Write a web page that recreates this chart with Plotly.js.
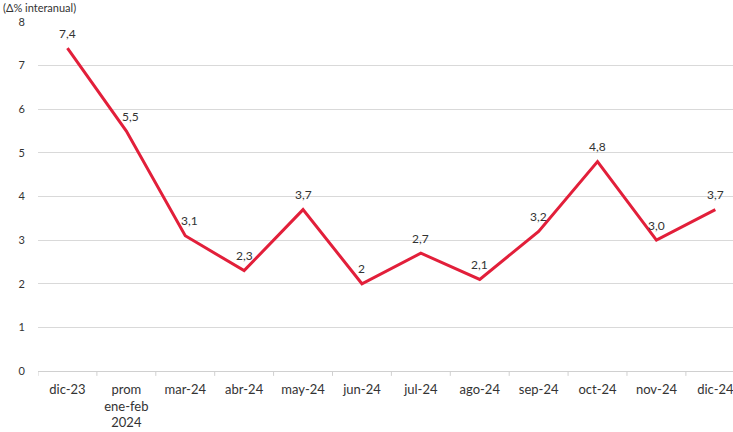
<!DOCTYPE html>
<html><head><meta charset="utf-8">
<script src="https://cdn.plot.ly/plotly-3.0.1.min.js"></script>
<style>body{margin:0;background:#fff}#c{width:733px;height:432px}</style>
</head><body><div id="c"></div>
<script>
const categories = ["dic-23","prom<br>ene-feb<br>2024","mar-24","abr-24","may-24","jun-24","jul-24","ago-24","sep-24","oct-24","nov-24","dic-24"];
const values = [7.4, 5.5, 3.1, 2.3, 3.7, 2.0, 2.7, 2.1, 3.2, 4.8, 3.0, 3.7];
const labels = ["7,4","5,5","3,1","2,3","3,7","2","2,7","2,1","3,2","4,8","3,0","3,7"];
const yTitle = "(Δ% interanual)";

const font = "Lato, 'Open Sans', sans-serif";
const idx = categories.map((c,i)=>i);
const trace = {
  x: idx, y: values, type: "scatter", mode: "lines",
  line: {color: "#E21F3A", width: 3}, hoverinfo: "skip"
};
const anns = values.map((v,i)=>({
  x: i, y: v, xref: "x", yref: "y", text: labels[i], showarrow: false,
  yshift: 15, xshift: (i===1?4:(i===2?4:0)), font: {family: font, size: 12, color: "#333"}
}));
anns.push({xref:"paper", yref:"paper", x:-0.052, y:1.0, yshift: 22, xanchor:"left", yanchor:"top",
  borderpad: 0, text: yTitle, showarrow:false, font:{family:font, size:11, color:"#333"}});
const layout = {
  width: 733, height: 432,
  margin: {l: 38, r: 0, t: 22, b: 61},
  paper_bgcolor: "#fff", plot_bgcolor: "#fff",
  showlegend: false,
  xaxis: {
    range: [-0.5, 11.3], tickmode: "array", tickvals: idx, ticktext: categories,
    showgrid: false, zeroline: false, showline: true, linecolor: "#d0d0d0", linewidth: 1,
    ticks: "", ticklabelstandoff: 6, ticklabeloverflow: "allow",
    tickfont: {family: font, size: 13, color: "#333"}, fixedrange: true
  },
  yaxis: {
    range: [0, 8], dtick: 1, showgrid: true, gridcolor: "#d9d9d9", gridwidth: 1,
    zeroline: false, showline: false, ticks: "", ticklabelstandoff: 12,
    tickfont: {family: font, size: 11, color: "#333"}, fixedrange: true
  },
  annotations: anns,
  shapes: idx.concat([12]).map(i=>({type:"line", xref:"x", yref:"paper", x0:i-0.5, x1:i-0.5, y0:0, y1:-0.014, line:{color:"#d0d0d0", width:1}}))
};
Plotly.newPlot("c", [trace], layout, {displayModeBar: false, staticPlot: true});
</script></body></html>
